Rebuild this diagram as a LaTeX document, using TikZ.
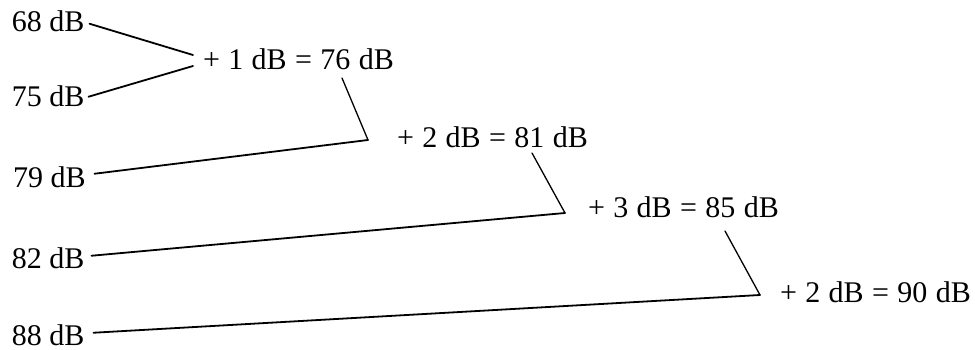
\documentclass[tikz,border=0pt]{standalone}
\usepackage{fontspec}
\setmainfont{Liberation Serif}
\begin{document}
\begin{tikzpicture}[x=1pt,y=-1pt,
  lbl/.style={font=\fontsize{30}{34}\selectfont, inner sep=0pt, outer sep=0pt, anchor=base west},
  res/.style={lbl, execute at begin node={\spaceskip=0.28em plus 0.1em minus 0.05em\relax}},
  conn/.style={line width=1.8pt, line cap=round},
  drop/.style={line width=1.3pt, line cap=round}]
\useasboundingbox (0,0) rectangle (975,350);
% input levels
\node[lbl] (n68) at (12,32) {68 dB};
\node[lbl] (n75) at (12,107) {75 dB};
\node[lbl] (n79) at (13,188) {79 dB};
\node[lbl] (n82) at (12,268) {82 dB};
\node[lbl] (n88) at (12,345) {88 dB};
% results
\node[res] (r1) at (203,70) {+ 1 dB = 76 dB};
\node[res] (r2) at (397,148) {+ 2 dB = 81 dB};
\node[res] (r3) at (588,218) {+ 3 dB = 85 dB};
\node[res] (r4) at (780,302) {+ 2 dB = 90 dB};
% junction points
\coordinate (j1a) at (193,55);
\coordinate (j1b) at (193,66);
\coordinate (t1) at (342,78);
\coordinate (c2) at (368,140);
\coordinate (t2) at (532,153);
\coordinate (c3) at (565,213);
\coordinate (t3) at (725,231);
\coordinate (c4) at (760,295);
% connectors
\draw[conn] ([xshift=5pt,yshift=-2pt]n68.east) -- (j1a);
\draw[conn] ([xshift=4pt]n75.east) -- (j1b);
\draw[drop] (t1) -- (c2);
\draw[conn] (c2) -- ([xshift=9pt,yshift=4pt]n79.east);
\draw[drop] (t2) -- (c3);
\draw[conn] (c3) -- ([xshift=7pt,yshift=2pt]n82.east);
\draw[drop] (t3) -- (c4);
\draw[conn] (c4) -- ([xshift=9pt,yshift=2pt]n88.east);
\end{tikzpicture}
\end{document}
